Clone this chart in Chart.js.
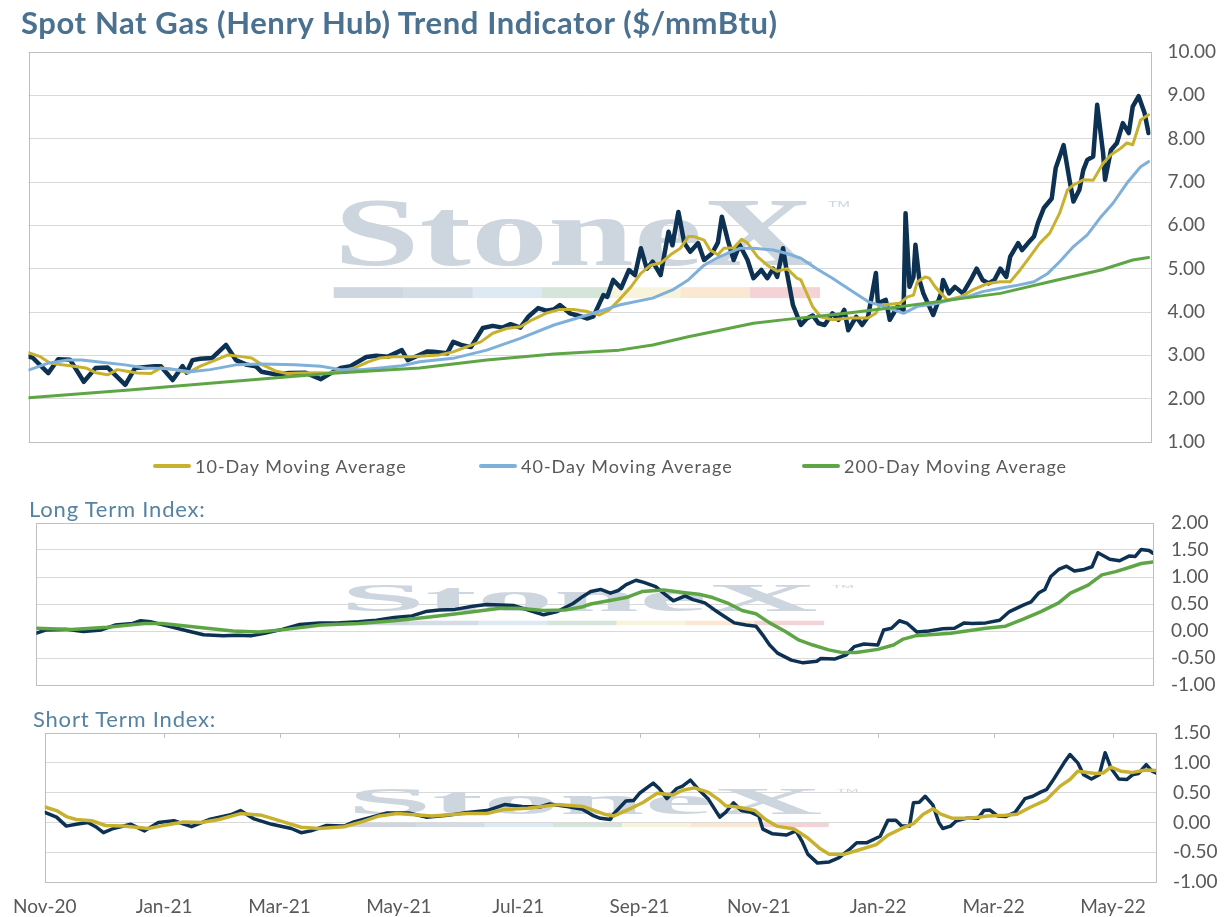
<!DOCTYPE html>
<html>
<head>
<meta charset="utf-8">
<title>Spot Nat Gas (Henry Hub) Trend Indicator</title>
<script src="https://cdn.jsdelivr.net/npm/chart.js@4.4.1/dist/chart.umd.min.js"></script>
<style>
  html, body { margin: 0; padding: 0; background: #fff; }
  #page { position: relative; width: 1232px; height: 917px; overflow: hidden; font-family: Lato, "Open Sans", sans-serif; }
  .title { position: absolute; left: 21px; top: 3px; font-size: 31px; letter-spacing: 0.6px; font-weight: 700; color: #4a7190; white-space: nowrap; }
  .sub { position: absolute; font-size: 22px; letter-spacing: 0.8px; color: #5683a3; white-space: nowrap; }
  .panel { position: absolute; left: 0; width: 1232px; }
  .legend-item { position: absolute; top: 455px; height: 22px; display: flex; align-items: center; font-size: 18px; letter-spacing: 1px; color: #595959; white-space: nowrap; }
  .legend-item i { display: inline-block; width: 38px; height: 4px; margin-right: 4px; border-radius: 2px; }
</style>
</head>
<body>
<div id="page">
  <div class="panel" style="top:22px;height:450px"><canvas id="priceChart"></canvas></div>
  <div class="panel" style="top:493px;height:222px"><canvas id="longChart"></canvas></div>
  <div class="panel" style="top:703px;height:228px"><canvas id="shortChart"></canvas></div>

  <div class="title">Spot Nat Gas (Henry Hub) Trend Indicator ($/mmBtu)</div>
  <div class="sub" style="left:29px;top:495px">Long Term Index:</div>
  <div class="sub" style="left:33px;top:705px">Short Term Index:</div>

  <div class="legend-item" style="left:153px"><i style="background:#c8b12f"></i>10-Day Moving Average</div>
  <div class="legend-item" style="left:479px"><i style="background:#7fb0da"></i>40-Day Moving Average</div>
  <div class="legend-item" style="left:802px"><i style="background:#5ea645"></i>200-Day Moving Average</div>
</div>

<script>
// x values are days counted from 1 Nov 2020
const monthDays = [0, 61, 120, 181, 242, 304, 365, 426, 485, 546];
const monthLabels = ["Nov-20", "Jan-21", "Mar-21", "May-21", "Jul-21", "Sep-21", "Nov-21", "Jan-22", "Mar-22", "May-22"];

const spotDays = [0, 2, 10, 15, 21, 28, 34, 40, 49, 54, 64, 67, 73, 78, 80, 83, 87, 93, 100, 105, 110, 115, 118, 125, 132, 140, 148, 152, 158, 163,
  171, 176, 182, 189, 192, 197, 202, 205, 212, 215, 219, 224, 230, 235, 240, 244, 249, 253, 258, 262, 266, 269, 274, 278, 283, 286, 291, 293, 296, 300,
  304, 307, 310, 313, 316, 320, 324, 326, 329, 332, 335, 339, 342, 346, 349, 351, 354, 357, 360, 364, 367, 371, 374, 377, 379, 382, 384, 387, 391, 394,
  397, 400, 403, 407, 410, 413, 415, 419, 422, 425, 429, 430, 434, 436, 440, 443, 444, 446, 448, 449, 451, 453, 456, 458, 462, 463, 466, 469, 473, 477,
  480, 483, 486, 489, 492, 495, 497, 501, 503, 506, 509, 511, 514, 518, 520, 524, 527, 529, 532, 534, 536, 539, 541, 544, 545, 548, 551, 554, 557, 559,
  562, 565, 567];
const spotPrice = [2.97, 2.95, 2.59, 2.91, 2.90, 2.39, 2.71, 2.72, 2.32, 2.71, 2.75, 2.75, 2.43, 2.75, 2.60, 2.89, 2.92, 2.94, 3.24, 2.89, 2.79, 2.75, 2.62, 2.56, 2.59, 2.60, 2.45, 2.56, 2.71, 2.75,
  2.96, 2.99, 2.97, 3.12, 2.89, 2.99, 3.09, 3.08, 3.05, 3.31, 3.24, 3.19, 3.63, 3.68, 3.64, 3.72, 3.64, 3.89, 4.09, 4.03, 4.06, 4.16, 3.97, 3.92, 3.85, 3.90, 4.39, 4.35, 4.74, 4.55,
  4.97, 4.85, 5.47, 5.00, 5.16, 4.85, 5.85, 5.54, 6.31, 5.59, 5.39, 5.59, 5.20, 5.35, 5.60, 6.20, 5.66, 5.20, 5.55, 5.20, 4.78, 4.97, 4.78, 5.00, 4.81, 5.47, 4.89, 4.16, 3.70, 3.85,
  3.92, 3.74, 3.70, 3.97, 3.82, 4.05, 3.58, 3.89, 3.70, 3.89, 4.90, 4.20, 4.28, 3.82, 4.13, 4.05, 6.28, 4.58, 4.81, 5.55, 4.74, 4.43, 4.13, 3.93, 4.43, 4.74, 4.43, 4.58, 4.43, 4.74,
  5.00, 4.74, 4.66, 4.74, 5.00, 4.81, 5.28, 5.59, 5.43, 5.59, 5.74, 6.05, 6.40, 6.62, 7.32, 7.85, 7.05, 6.55, 6.82, 7.28, 7.51, 7.59, 8.78, 7.67, 7.05, 7.74, 7.90, 8.36, 8.13, 8.74,
  8.98, 8.59, 8.13];

const ma10Days = [0, 6, 11, 16, 23, 29, 34, 40, 45, 49, 55, 62, 67, 74, 81, 87, 94, 101, 108, 113, 118, 125, 131, 138, 145, 152, 158, 165, 172, 178,
  185, 194, 202, 208, 215, 222, 229, 235, 242, 249, 255, 262, 269, 276, 283, 289, 294, 299, 305, 310, 315, 320, 325, 330, 334, 337, 342, 345, 349, 352,
  357, 361, 364, 369, 374, 379, 384, 389, 391, 394, 397, 401, 407, 416, 425, 429, 431, 436, 441, 445, 448, 450, 454, 456, 459, 462, 465, 472, 478, 485,
  492, 497, 502, 507, 512, 517, 522, 526, 529, 534, 539, 544, 548, 553, 556, 559, 563, 567];
const ma10 = [3.06, 2.97, 2.82, 2.79, 2.75, 2.71, 2.60, 2.55, 2.67, 2.64, 2.59, 2.58, 2.71, 2.67, 2.60, 2.75, 2.88, 3.01, 2.97, 2.94, 2.79, 2.64, 2.58, 2.59, 2.60, 2.59, 2.64, 2.71, 2.85, 2.94,
  2.97, 2.97, 2.99, 3.01, 3.08, 3.20, 3.31, 3.51, 3.62, 3.66, 3.82, 3.97, 4.06, 4.06, 4.01, 3.93, 4.05, 4.28, 4.58, 4.89, 5.08, 5.13, 5.32, 5.47, 5.74, 5.74, 5.66, 5.43, 5.32, 5.47,
  5.48, 5.68, 5.59, 5.28, 5.08, 4.94, 5.00, 4.78, 4.74, 4.43, 4.12, 3.89, 3.82, 3.86, 3.86, 3.97, 4.16, 4.18, 4.20, 4.35, 4.39, 4.70, 4.81, 4.78, 4.58, 4.43, 4.28, 4.35, 4.51, 4.65,
  4.70, 4.70, 4.97, 5.28, 5.59, 5.82, 6.28, 6.82, 6.93, 7.05, 7.04, 7.43, 7.63, 7.78, 7.90, 7.86, 8.43, 8.55];

const ma40Days = [0, 10, 20, 27, 37, 49, 59, 71, 82, 92, 105, 118, 135, 148, 158, 168, 178, 189, 198, 215, 232, 249, 266, 283, 299, 316, 326, 334, 342, 350,
  360, 367, 377, 384, 391, 399, 407, 416, 425, 433, 443, 450, 458, 467, 475, 483, 492, 501, 509, 516, 522, 529, 536, 543, 549, 556, 563, 567];
const ma40 = [2.66, 2.82, 2.89, 2.89, 2.84, 2.78, 2.71, 2.69, 2.62, 2.67, 2.78, 2.80, 2.78, 2.75, 2.67, 2.67, 2.71, 2.76, 2.85, 2.93, 3.12, 3.39, 3.70, 3.93, 4.16, 4.32, 4.51, 4.74, 5.08, 5.28,
  5.47, 5.47, 5.43, 5.35, 5.24, 5.00, 4.78, 4.51, 4.24, 4.13, 3.97, 4.13, 4.18, 4.28, 4.35, 4.47, 4.55, 4.62, 4.70, 4.89, 5.16, 5.51, 5.78, 6.20, 6.51, 6.97, 7.35, 7.47];

const ma200Days = [0, 51, 101, 152, 198, 232, 266, 299, 316, 334, 350, 367, 384, 401, 416, 441, 467, 492, 517, 543, 559, 567];
const ma200 = [2.02, 2.20, 2.39, 2.58, 2.71, 2.89, 3.03, 3.12, 3.24, 3.43, 3.58, 3.74, 3.83, 3.91, 3.98, 4.12, 4.28, 4.43, 4.70, 4.97, 5.20, 5.26];

const longDays = [0, 5, 15, 24, 33, 40, 49, 53, 58, 67, 76, 85, 95, 102, 109, 116, 125, 134, 144, 153, 164, 173, 182, 191, 198, 205, 213, 222, 229, 236,
  243, 251, 258, 265, 273, 278, 282, 287, 292, 296, 300, 305, 309, 315, 319, 324, 330, 334, 340, 345, 350, 355, 361, 366, 370, 373, 377, 384, 390, 397,
  399, 406, 412, 416, 421, 428, 431, 435, 439, 443, 448, 454, 461, 467, 472, 476, 483, 490, 495, 502, 506, 510, 513, 516, 520, 524, 528, 533, 537, 540,
  546, 551, 556, 559, 562, 566, 568];
const longIndex = [-0.04, 0.02, 0.03, -0.01, 0.02, 0.11, 0.14, 0.19, 0.17, 0.09, 0.01, -0.07, -0.09, -0.08, -0.09, -0.04, 0.03, 0.12, 0.15, 0.15, 0.17, 0.20, 0.25, 0.28, 0.36, 0.39, 0.40, 0.46, 0.49, 0.48,
  0.47, 0.38, 0.30, 0.36, 0.51, 0.64, 0.73, 0.77, 0.70, 0.75, 0.86, 0.94, 0.90, 0.82, 0.70, 0.56, 0.65, 0.58, 0.52, 0.39, 0.27, 0.15, 0.11, 0.09, -0.10, -0.26, -0.41, -0.54, -0.59, -0.56,
  -0.51, -0.52, -0.44, -0.29, -0.24, -0.26, 0.02, 0.05, 0.19, 0.14, -0.02, 0.00, 0.04, 0.05, 0.15, 0.14, 0.15, 0.20, 0.36, 0.48, 0.54, 0.71, 0.77, 1.01, 1.14, 1.20, 1.11, 1.14, 1.19, 1.45,
  1.33, 1.30, 1.39, 1.38, 1.51, 1.49, 1.44];

const longSignalDays = [0, 18, 36, 55, 64, 82, 100, 113, 127, 145, 164, 182, 200, 218, 236, 245, 258, 269, 278, 282, 291, 300, 308, 319, 330, 337, 344, 352, 359, 366,
  373, 381, 388, 395, 403, 410, 417, 428, 436, 441, 447, 465, 483, 493, 502, 511, 520, 526, 535, 542, 549, 557, 562, 568];
const longSignal = [0.05, 0.03, 0.07, 0.14, 0.14, 0.07, 0.00, -0.02, 0.03, 0.11, 0.14, 0.19, 0.26, 0.34, 0.42, 0.42, 0.38, 0.39, 0.45, 0.50, 0.56, 0.62, 0.73, 0.76, 0.71, 0.68, 0.62, 0.51, 0.38, 0.32,
  0.15, -0.01, -0.17, -0.26, -0.35, -0.40, -0.40, -0.34, -0.26, -0.15, -0.09, -0.04, 0.05, 0.09, 0.22, 0.36, 0.52, 0.70, 0.85, 1.04, 1.10, 1.19, 1.25, 1.28];

const shortDays = [0, 6, 11, 16, 22, 26, 30, 35, 44, 51, 58, 66, 75, 84, 95, 100, 107, 116, 126, 131, 136, 144, 153, 158, 167, 175, 186, 195, 206, 216,
  226, 235, 244, 253, 258, 267, 275, 280, 284, 289, 291, 297, 301, 304, 311, 314, 318, 323, 326, 330, 334, 339, 345, 348, 352, 356, 361, 365, 367, 372,
  379, 384, 387, 390, 395, 401, 406, 411, 415, 420, 427, 431, 435, 438, 442, 444, 447, 450, 454, 457, 459, 463, 466, 471, 477, 480, 483, 487, 491, 496,
  501, 505, 509, 512, 515, 521, 524, 528, 531, 535, 539, 542, 545, 549, 553, 556, 559, 563, 566, 568];
const shortIndex = [0.17, 0.09, -0.06, -0.03, 0.00, -0.07, -0.17, -0.10, -0.03, -0.14, 0.00, 0.03, -0.07, 0.05, 0.13, 0.20, 0.06, -0.03, -0.10, -0.17, -0.14, -0.05, -0.06, 0.01, 0.09, 0.16, 0.16, 0.09, 0.12, 0.17,
  0.20, 0.30, 0.27, 0.26, 0.31, 0.27, 0.22, 0.12, 0.07, 0.05, 0.15, 0.36, 0.37, 0.49, 0.66, 0.57, 0.40, 0.57, 0.61, 0.71, 0.56, 0.40, 0.09, 0.17, 0.33, 0.20, 0.17, 0.11, -0.11, -0.19,
  -0.21, -0.14, -0.31, -0.53, -0.68, -0.66, -0.59, -0.46, -0.34, -0.34, -0.23, 0.04, 0.04, -0.06, -0.06, 0.33, 0.34, 0.44, 0.29, 0.00, -0.10, -0.06, 0.03, 0.07, 0.07, 0.20, 0.21, 0.11, 0.10, 0.17,
  0.40, 0.44, 0.51, 0.55, 0.69, 1.00, 1.14, 1.00, 0.80, 0.73, 0.80, 1.17, 0.91, 0.73, 0.72, 0.80, 0.82, 0.97, 0.86, 0.83];

const shortSignalDays = [0, 6, 11, 16, 24, 31, 40, 53, 62, 71, 80, 89, 100, 111, 122, 131, 140, 153, 162, 171, 180, 189, 198, 207, 216, 226, 235, 247, 262, 275,
  280, 286, 291, 299, 306, 313, 321, 326, 332, 339, 345, 348, 354, 363, 368, 374, 383, 390, 396, 401, 409, 416, 425, 431, 438, 444, 449, 454, 458, 464,
  473, 482, 491, 497, 504, 512, 519, 524, 528, 537, 541, 545, 550, 556, 563, 568];
const shortSignal = [0.26, 0.20, 0.10, 0.05, 0.03, -0.05, -0.06, -0.10, -0.04, 0.01, 0.00, 0.05, 0.15, 0.12, 0.01, -0.08, -0.10, -0.07, 0.01, 0.11, 0.15, 0.13, 0.11, 0.13, 0.15, 0.15, 0.22, 0.24, 0.30, 0.27,
  0.21, 0.14, 0.11, 0.23, 0.34, 0.49, 0.46, 0.54, 0.58, 0.51, 0.37, 0.28, 0.26, 0.20, 0.06, -0.06, -0.11, -0.26, -0.43, -0.53, -0.53, -0.46, -0.37, -0.21, -0.10, -0.02, 0.14, 0.23, 0.14, 0.07,
  0.07, 0.11, 0.12, 0.14, 0.26, 0.38, 0.61, 0.72, 0.86, 0.82, 0.83, 0.93, 0.86, 0.84, 0.88, 0.87];

const NAVY = "#0d3152";
const GOLD = "#c8b12f";
const BLUE = "#7fb0da";
const GREEN = "#5ea645";
const GRID = "#d9d9d9";
const FRAME = "#bfbfbf";
const TICK_TEXT = "#595959";
const FONT = "Lato, 'Open Sans', sans-serif";

const pts = (days, vals) => days.map((d, i) => ({ x: d, y: vals[i] }));

const series = (label, days, vals, color, width) => ({
  label,
  data: pts(days, vals),
  borderColor: color,
  backgroundColor: color,
  borderWidth: width,
  pointRadius: 0,
  tension: 0,
  borderJoinStyle: "round",
  borderCapStyle: "round",
});

// faint "StoneX" mark with its colour bar, placed relative to the plot area
const watermark = {
  id: "watermark",
  beforeDatasetsDraw(chart) {
    const { ctx, chartArea: a } = chart;
    const w = a.right - a.left;
    const h = a.bottom - a.top;
    const x0 = a.left + w * 0.272;
    const x1 = a.left + w * 0.7;
    const capTop = a.top + h * 0.38;
    const base = a.top + h * 0.545;

    ctx.save();
    ctx.font = "bold 100px 'Liberation Serif', 'DejaVu Serif', serif";
    ctx.textBaseline = "alphabetic";
    const m = ctx.measureText("StoneX");
    const capH = m.actualBoundingBoxAscent || 66;
    ctx.translate(x0, base);
    ctx.scale((x1 - x0) / m.width, (base - capTop) / capH);
    ctx.fillStyle = "#cdd5de";
    ctx.fillText("StoneX", 0, 0);
    ctx.restore();

    ctx.save();
    ctx.font = "20px 'Liberation Sans', sans-serif";
    const tm = ctx.measureText("TM");
    const tmH = (base - capTop) * 0.1;
    ctx.translate(a.left + w * 0.7125, capTop + tmH * 1.1);
    ctx.scale(22 / tm.width, tmH / 14.5);
    ctx.fillStyle = "#cdd5de";
    ctx.fillText("TM", 0, 0);
    ctx.restore();

    const barColors = ["#cfd6df", "#d4dce6", "#dde9f3", "#d6e5d9", "#f8f4dc", "#fbe8d3", "#f3d3d6"];
    const bx0 = a.left + w * 0.272;
    const bx1 = a.left + w * 0.705;
    const by0 = a.top + h * 0.603;
    const by1 = a.top + h * 0.631;
    const seg = (bx1 - bx0) / barColors.length;
    ctx.save();
    barColors.forEach((c, i) => {
      ctx.fillStyle = c;
      ctx.fillRect(bx0 + i * seg, by0, seg + 0.5, by1 - by0);
    });
    ctx.restore();
  },
};

const frame = {
  id: "frame",
  beforeDatasetsDraw(chart) {
    const { ctx, chartArea: a } = chart;
    ctx.save();
    ctx.strokeStyle = FRAME;
    ctx.lineWidth = 1;
    ctx.strokeRect(Math.round(a.left) + 0.5, Math.round(a.top) + 0.5, Math.round(a.right - a.left), Math.round(a.bottom - a.top));
    ctx.restore();
  },
};

// short month marks hanging from the top edge of the bottom panel
const topTicks = {
  id: "topTicks",
  beforeDatasetsDraw(chart) {
    const { ctx, chartArea: a, scales } = chart;
    ctx.save();
    ctx.strokeStyle = FRAME;
    ctx.lineWidth = 1;
    ctx.beginPath();
    scales.x.ticks.forEach((t) => {
      const px = Math.round(scales.x.getPixelForValue(t.value)) + 0.5;
      ctx.moveTo(px, a.top);
      ctx.lineTo(px, a.top + 5);
    });
    ctx.stroke();
    ctx.restore();
  },
};

const yAxis = (min, max, step, width, pad) => ({
  position: "right",
  min,
  max,
  afterFit: (axis) => {
    axis.width = width;
  },
  grid: { color: GRID, lineWidth: 1, drawTicks: false },
  border: { display: false },
  ticks: {
    stepSize: step,
    padding: pad,
    autoSkip: false,
    color: TICK_TEXT,
    font: { family: FONT, size: 19 },
    callback: (v) => Number(v).toFixed(2),
  },
});

const hiddenX = { type: "linear", min: 0, max: 568, display: false };

const baseOptions = (scales, padding) => ({
  responsive: true,
  maintainAspectRatio: false,
  animation: false,
  layout: { padding },
  plugins: { legend: { display: false }, tooltip: { enabled: false } },
  scales,
});

new Chart(document.getElementById("priceChart"), {
  type: "line",
  data: {
    datasets: [
      series("200-Day Moving Average", ma200Days, ma200, GREEN, 3),
      series("40-Day Moving Average", ma40Days, ma40, BLUE, 3),
      series("10-Day Moving Average", ma10Days, ma10, GOLD, 3),
      series("Spot", spotDays, spotPrice, NAVY, 4.5),
    ],
  },
  options: baseOptions({ x: hiddenX, y: yAxis(1, 10, 1, 81.5, 17) }, { left: 28.5, right: 0, top: 30, bottom: 30 }),
  plugins: [watermark, frame],
});

new Chart(document.getElementById("longChart"), {
  type: "line",
  data: {
    datasets: [
      series("Long Term Signal", longSignalDays, longSignal, GREEN, 3.5),
      series("Long Term Index", longDays, longIndex, NAVY, 3.5),
    ],
  },
  options: baseOptions({ x: hiddenX, y: yAxis(-1, 2, 0.5, 79, 18) }, { left: 36.4, right: 0, top: 30, bottom: 30 }),
  plugins: [watermark, frame],
});

new Chart(document.getElementById("shortChart"), {
  type: "line",
  data: {
    datasets: [
      series("Short Term Signal", shortSignalDays, shortSignal, GOLD, 3.5),
      series("Short Term Index", shortDays, shortIndex, NAVY, 3.5),
    ],
  },
  options: baseOptions(
    {
      x: {
        type: "linear",
        min: 0,
        max: 568,
        position: "bottom",
        afterBuildTicks: (axis) => {
          axis.ticks = monthDays.map((v) => ({ value: v }));
        },
        grid: { display: false, drawTicks: false },
        border: { display: false },
        ticks: {
          autoSkip: false,
          maxRotation: 0,
          padding: 13,
          color: TICK_TEXT,
          font: { family: FONT, size: 19 },
          callback: (v) => monthLabels[monthDays.indexOf(v)],
        },
      },
      y: yAxis(-1, 1.5, 0.5, 76, 17),
    },
    { left: 39.5, right: 0, top: 30, bottom: 0 }
  ),
  plugins: [watermark, frame, topTicks],
});
</script>
</body>
</html>
